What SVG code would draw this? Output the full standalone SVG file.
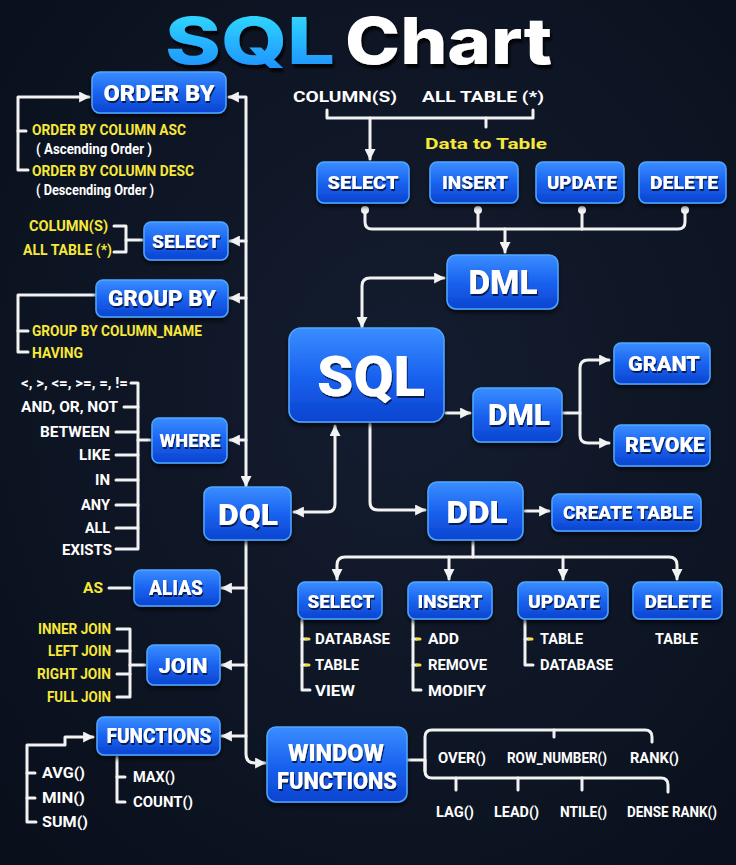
<svg xmlns="http://www.w3.org/2000/svg" width="736" height="865" viewBox="0 0 736 865">
<defs>
<radialGradient id="bg" cx="0.55" cy="0.45" r="0.75">
<stop offset="0" stop-color="#141d30"/>
<stop offset="1" stop-color="#090f1b"/>
</radialGradient>
<linearGradient id="nodeGrad" x1="0" y1="0" x2="0" y2="1">
<stop offset="0" stop-color="#3a8dff"/>
<stop offset="0.5" stop-color="#1a63f0"/>
<stop offset="1" stop-color="#0b44cf"/>
</linearGradient>
<linearGradient id="titleGrad" x1="0" y1="0" x2="0" y2="1">
<stop offset="0" stop-color="#33e6ff"/>
<stop offset="1" stop-color="#1b86ff"/>
</linearGradient>
<filter id="shadow" x="-20%" y="-30%" width="140%" height="170%">
<feDropShadow dx="0" dy="3" stdDeviation="2" flood-color="#000000" flood-opacity="0.7"/>
</filter>
<filter id="tshadow" x="-20%" y="-40%" width="140%" height="180%">
<feDropShadow dx="1" dy="2" stdDeviation="0.6" flood-color="#061645" flood-opacity="0.9"/>
</filter>
<filter id="titleShadow" x="-20%" y="-40%" width="140%" height="180%">
<feDropShadow dx="2" dy="4" stdDeviation="1" flood-color="#000000" flood-opacity="0.8"/>
</filter>
<marker id="ah" viewBox="0 0 10 10" refX="9" refY="5" markerWidth="11" markerHeight="11" markerUnits="userSpaceOnUse" orient="auto-start-reverse">
<path d="M0,0 L10,5 L0,10 z" fill="#f2f2f2"/>
</marker>
</defs>
<style>
.node rect{fill:url(#nodeGrad);stroke:#4fa6ff;stroke-width:1.5;filter:url(#shadow)}
.node text{font-family:Roboto,"Liberation Sans",sans-serif;font-weight:900;fill:#ffffff;text-anchor:middle;filter:url(#tshadow)}
.c{fill:none;stroke:#f2f2f2;stroke-width:3;stroke-linecap:round;stroke-linejoin:round}
.a{marker-end:url(#ah)}
.b{marker-start:url(#ah);marker-end:url(#ah)}
.y{stroke:#f5e04a}
.lt{font-family:Roboto,"Liberation Sans",sans-serif;font-weight:700;font-size:15px;fill:#ffffff}
.yt{font-family:Roboto,"Liberation Sans",sans-serif;font-weight:700;font-size:14px;fill:#f7e83a}
.r{text-anchor:end}
</style>
<rect width="736" height="865" fill="url(#bg)"/>

<g id="title" font-family="Inter,Roboto,sans-serif" font-weight="800" font-size="64">
<text x="165" y="64" fill="url(#titleGrad)" filter="url(#titleShadow)" textLength="170" lengthAdjust="spacingAndGlyphs">SQL</text>
<text x="345" y="64" fill="#ffffff" filter="url(#titleShadow)" textLength="207" lengthAdjust="spacingAndGlyphs">Chart</text>
</g>

<g id="connectors">
<path class="c b" d="M229,97 H246 V486"/>
<path class="c a" d="M246,241 H230"/>
<path class="c a" d="M246,298 H230"/>
<path class="c a" d="M246,440 H230"/>
<path class="c a" d="M246,541 V754 Q246,763 255,763 H265"/>
<path class="c a" d="M246,588 H222"/>
<path class="c a" d="M246,665 H222"/>
<path class="c a" d="M246,736 H222"/>
<path class="c a" d="M28,170 H18 V97 H89"/>
<path class="c" d="M18,131 H26"/>
<path class="c" d="M114,226 H126 V252 H114"/>
<path class="c" d="M126,240 H142"/>
<path class="c" d="M28,352 H18 V295 H96"/>
<path class="c" d="M18,331 H28"/>
<path class="c" d="M131,383 H138 V549 H116"/>
<path class="c" d="M124,407 H138"/>
<path class="c" d="M116,432 H138"/>
<path class="c" d="M116,455 H138"/>
<path class="c" d="M116,480 H138"/>
<path class="c" d="M116,505 H138"/>
<path class="c" d="M116,528 H138"/>
<path class="c" d="M138,440 H150"/>
<path class="c" d="M109,588 H130"/>
<path class="c" d="M117,629 H130 V697 H117"/>
<path class="c" d="M117,651 H130"/>
<path class="c" d="M117,674 H130"/>
<path class="c" d="M130,665 H145"/>
<path class="c a" d="M36,822 H27 V745 H65 V737 H93"/>
<path class="c" d="M27,773 H35"/>
<path class="c" d="M27,798 H35"/>
<path class="c" d="M117,757 V802 H125"/>
<path class="c" d="M117,777 H125"/>
<path class="c" d="M327,110 V118 H533 V110"/>
<path class="c" d="M486,118 V127"/>
<path class="c a" d="M370,118 V159"/>
<path class="c" d="M365,210 V222 Q365,229 372,229 H678 Q685,229 685,222 V210"/>
<path class="c" d="M478,210 V229"/>
<path class="c" d="M582,210 V229"/>
<path class="c a" d="M505,229 V252"/>
<circle cx="365" cy="210" r="4" fill="#f2f2f2"/>
<circle cx="478" cy="210" r="4" fill="#f2f2f2"/>
<circle cx="582" cy="210" r="4" fill="#f2f2f2"/>
<circle cx="685" cy="210" r="4" fill="#f2f2f2"/>
<path class="c b" d="M362,327 V286 Q362,278 370,278 H444"/>
<path class="c a" d="M446,413 H470"/>
<path class="c" d="M562,413 H580"/>
<path class="c b" d="M609,360 H588 Q580,360 580,368 V435 Q580,443 588,443 H609"/>
<path class="c b" d="M294,512 H327 Q335,512 335,504 V426"/>
<path class="c a" d="M370,424 V502 Q370,510 378,510 H425"/>
<path class="c a" d="M525,511 H549"/>
<path class="c" d="M473,541 V557"/>
<path class="c b" d="M337,579 V565 Q337,557 345,557 H669 Q677,557 677,565 V579"/>
<path class="c a" d="M449,557 V579"/>
<path class="c a" d="M563,557 V579"/>
<path class="c" d="M302,620 V690 H310"/>
<path class="c" d="M302,639 H306"/><path class="c y" d="M306,639 H309"/>
<path class="c" d="M302,665 H306"/><path class="c y" d="M306,665 H309"/>
<path class="c" d="M413,620 V690 H421"/>
<path class="c" d="M413,639 H417"/><path class="c y" d="M417,639 H420"/>
<path class="c" d="M413,665 H417"/><path class="c y" d="M417,665 H420"/>
<path class="c" d="M525,620 V665 H533"/>
<path class="c" d="M525,639 H529"/><path class="c y" d="M529,639 H532"/>
<path class="c" d="M407,760 H425"/>
<path class="c" d="M425,771 V737 Q425,730 432,730 H645 Q652,730 652,737 V742"/>
<path class="c" d="M554,730 V737"/>
<path class="c" d="M425,760 V771 Q425,778 432,778 H661 Q668,778 668,785 V792"/>
<path class="c" d="M456,778 V790"/>
<path class="c" d="M518,778 V790"/>
<path class="c" d="M582,778 V790"/>
</g>

<g id="orderby-items">
<text class="yt" x="32" y="135" textLength="154" lengthAdjust="spacingAndGlyphs">ORDER BY COLUMN ASC</text>
<text class="lt" x="36" y="154" font-size="14" textLength="116" lengthAdjust="spacingAndGlyphs">( Ascending Order )</text>
<text class="yt" x="32" y="176" textLength="162" lengthAdjust="spacingAndGlyphs">ORDER BY COLUMN DESC</text>
<text class="lt" x="36" y="195" font-size="14" textLength="118" lengthAdjust="spacingAndGlyphs">( Descending Order )</text>
</g>
<g id="select-items">
<text class="yt r" x="108" y="231" textLength="79" lengthAdjust="spacingAndGlyphs">COLUMN(S)</text>
<text class="yt r" x="112" y="255" textLength="89" lengthAdjust="spacingAndGlyphs">ALL TABLE (*)</text>
</g>
<g id="groupby-items">
<text class="yt" x="32" y="336" textLength="170" lengthAdjust="spacingAndGlyphs">GROUP BY COLUMN_NAME</text>
<text class="yt" x="32" y="358" textLength="51" lengthAdjust="spacingAndGlyphs">HAVING</text>
</g>
<g id="where-items">
<text class="lt r" x="128" y="388" textLength="107" lengthAdjust="spacingAndGlyphs">&lt;, &gt;, &lt;=, &gt;=, =, !=</text>
<text class="lt r" x="118" y="412" textLength="97" lengthAdjust="spacingAndGlyphs">AND, OR, NOT</text>
<text class="lt r" x="110" y="437" textLength="70" lengthAdjust="spacingAndGlyphs">BETWEEN</text>
<text class="lt r" x="110" y="460" textLength="31" lengthAdjust="spacingAndGlyphs">LIKE</text>
<text class="lt r" x="110" y="485" textLength="15" lengthAdjust="spacingAndGlyphs">IN</text>
<text class="lt r" x="110" y="510" textLength="29" lengthAdjust="spacingAndGlyphs">ANY</text>
<text class="lt r" x="110" y="533" textLength="25" lengthAdjust="spacingAndGlyphs">ALL</text>
<text class="lt r" x="112" y="555" textLength="50" lengthAdjust="spacingAndGlyphs">EXISTS</text>
</g>
<g id="alias-items">
<text class="yt r" x="103" y="593" font-size="15" textLength="20" lengthAdjust="spacingAndGlyphs">AS</text>
</g>
<g id="join-items">
<text class="yt r" x="111" y="634" textLength="73" lengthAdjust="spacingAndGlyphs">INNER JOIN</text>
<text class="yt r" x="111" y="656" textLength="63" lengthAdjust="spacingAndGlyphs">LEFT JOIN</text>
<text class="yt r" x="111" y="679" textLength="74" lengthAdjust="spacingAndGlyphs">RIGHT JOIN</text>
<text class="yt r" x="111" y="702" textLength="64" lengthAdjust="spacingAndGlyphs">FULL JOIN</text>
</g>
<g id="functions-items">
<text class="lt" x="42" y="778" textLength="43" lengthAdjust="spacingAndGlyphs">AVG()</text>
<text class="lt" x="42" y="803" textLength="43" lengthAdjust="spacingAndGlyphs">MIN()</text>
<text class="lt" x="42" y="827" textLength="46" lengthAdjust="spacingAndGlyphs">SUM()</text>
<text class="lt" x="133" y="782" textLength="42" lengthAdjust="spacingAndGlyphs">MAX()</text>
<text class="lt" x="133" y="807" textLength="60" lengthAdjust="spacingAndGlyphs">COUNT()</text>
</g>

<g id="dml-top-items">
<text class="lt" x="293" y="102" font-size="17" textLength="104" lengthAdjust="spacingAndGlyphs">COLUMN(S)</text>
<text class="lt" x="422" y="102" font-size="17" textLength="122" lengthAdjust="spacingAndGlyphs">ALL TABLE (*)</text>
<text class="yt" x="486" y="149" font-size="19" text-anchor="middle" textLength="122" lengthAdjust="spacingAndGlyphs">Data to Table</text>
</g>

<g id="ddl-items">
<text class="lt" x="315" y="644" textLength="75" lengthAdjust="spacingAndGlyphs">DATABASE</text>
<text class="lt" x="315" y="670" textLength="44" lengthAdjust="spacingAndGlyphs">TABLE</text>
<text class="lt" x="315" y="696" textLength="40" lengthAdjust="spacingAndGlyphs">VIEW</text>
<text class="lt" x="428" y="644" textLength="31" lengthAdjust="spacingAndGlyphs">ADD</text>
<text class="lt" x="428" y="670" textLength="59" lengthAdjust="spacingAndGlyphs">REMOVE</text>
<text class="lt" x="428" y="696" textLength="58" lengthAdjust="spacingAndGlyphs">MODIFY</text>
<text class="lt" x="540" y="644" textLength="43" lengthAdjust="spacingAndGlyphs">TABLE</text>
<text class="lt" x="540" y="670" textLength="73" lengthAdjust="spacingAndGlyphs">DATABASE</text>
<text class="lt" x="655" y="644" textLength="43" lengthAdjust="spacingAndGlyphs">TABLE</text>
</g>

<g id="window-items">
<text class="lt" x="438" y="763" textLength="48" lengthAdjust="spacingAndGlyphs">OVER()</text>
<text class="lt" x="507" y="763" textLength="100" lengthAdjust="spacingAndGlyphs">ROW_NUMBER()</text>
<text class="lt" x="630" y="763" textLength="49" lengthAdjust="spacingAndGlyphs">RANK()</text>
<text class="lt" x="436" y="817" textLength="38" lengthAdjust="spacingAndGlyphs">LAG()</text>
<text class="lt" x="494" y="817" textLength="45" lengthAdjust="spacingAndGlyphs">LEAD()</text>
<text class="lt" x="560" y="817" textLength="47" lengthAdjust="spacingAndGlyphs">NTILE()</text>
<text class="lt" x="627" y="817" textLength="90" lengthAdjust="spacingAndGlyphs">DENSE RANK()</text>
</g>

<g id="n-orderby" class="node"><rect x="92" y="72" width="134" height="41" rx="8"/><text x="159" y="101" font-size="22" textLength="111" lengthAdjust="spacingAndGlyphs">ORDER BY</text></g>
<g id="n-select-l" class="node"><rect x="144" y="222" width="84" height="38" rx="7"/><text x="186" y="248" font-size="19" textLength="68" lengthAdjust="spacingAndGlyphs">SELECT</text></g>
<g id="n-groupby" class="node"><rect x="96" y="280" width="132" height="37" rx="7"/><text x="162" y="306" font-size="22" textLength="108" lengthAdjust="spacingAndGlyphs">GROUP BY</text></g>
<g id="n-where" class="node"><rect x="152" y="418" width="75" height="45" rx="7"/><text x="190" y="447" font-size="19" textLength="61" lengthAdjust="spacingAndGlyphs">WHERE</text></g>
<g id="n-dql" class="node"><rect x="204" y="487" width="87" height="53" rx="8"/><text x="248" y="525" font-size="30" textLength="60" lengthAdjust="spacingAndGlyphs">DQL</text></g>
<g id="n-alias" class="node"><rect x="134" y="570" width="86" height="36" rx="7"/><text x="176" y="595" font-size="20" textLength="54" lengthAdjust="spacingAndGlyphs">ALIAS</text></g>
<g id="n-join" class="node"><rect x="147" y="645" width="73" height="40" rx="7"/><text x="183" y="673" font-size="21" textLength="49" lengthAdjust="spacingAndGlyphs">JOIN</text></g>
<g id="n-functions" class="node"><rect x="97" y="717" width="123" height="38" rx="7"/><text x="159" y="743" font-size="20" textLength="105" lengthAdjust="spacingAndGlyphs">FUNCTIONS</text></g>
<g id="n-window" class="node"><rect x="267" y="727" width="140" height="75" rx="9"/><text x="336" y="761" font-size="24" textLength="96" lengthAdjust="spacingAndGlyphs">WINDOW</text><text x="337" y="789" font-size="24" textLength="120" lengthAdjust="spacingAndGlyphs">FUNCTIONS</text></g>

<g id="n-sql" class="node"><rect x="289" y="328" width="155" height="94" rx="12"/><text x="371" y="396" font-size="56" textLength="108" lengthAdjust="spacingAndGlyphs">SQL</text></g>
<g id="n-dml-top" class="node"><rect x="447" y="255" width="111" height="54" rx="9"/><text x="503" y="294" font-size="34" textLength="69" lengthAdjust="spacingAndGlyphs">DML</text></g>
<g id="n-select-t" class="node"><rect x="317" y="162" width="92" height="41" rx="7"/><text x="363" y="189" font-size="19" textLength="71" lengthAdjust="spacingAndGlyphs">SELECT</text></g>
<g id="n-insert-t" class="node"><rect x="430" y="162" width="88" height="41" rx="7"/><text x="475" y="189" font-size="19" textLength="66" lengthAdjust="spacingAndGlyphs">INSERT</text></g>
<g id="n-update-t" class="node"><rect x="536" y="162" width="88" height="41" rx="7"/><text x="582" y="189" font-size="19" textLength="70" lengthAdjust="spacingAndGlyphs">UPDATE</text></g>
<g id="n-delete-t" class="node"><rect x="639" y="162" width="87" height="41" rx="7"/><text x="684" y="189" font-size="19" textLength="68" lengthAdjust="spacingAndGlyphs">DELETE</text></g>

<g id="n-dml-mid" class="node"><rect x="473" y="388" width="89" height="54" rx="8"/><text x="519" y="425" font-size="30" textLength="62" lengthAdjust="spacingAndGlyphs">DML</text></g>
<g id="n-grant" class="node"><rect x="614" y="343" width="96" height="41" rx="7"/><text x="664" y="371" font-size="20" textLength="72" lengthAdjust="spacingAndGlyphs">GRANT</text></g>
<g id="n-revoke" class="node"><rect x="614" y="425" width="96" height="41" rx="7"/><text x="665" y="452" font-size="20" textLength="80" lengthAdjust="spacingAndGlyphs">REVOKE</text></g>

<g id="n-ddl" class="node"><rect x="428" y="482" width="95" height="58" rx="9"/><text x="477" y="523" font-size="32" textLength="61" lengthAdjust="spacingAndGlyphs">DDL</text></g>
<g id="n-create" class="node"><rect x="552" y="494" width="149" height="37" rx="7"/><text x="628" y="519" font-size="19" textLength="130" lengthAdjust="spacingAndGlyphs">CREATE  TABLE</text></g>
<g id="n-select-b" class="node"><rect x="298" y="582" width="84" height="37" rx="7"/><text x="341" y="608" font-size="19" textLength="67" lengthAdjust="spacingAndGlyphs">SELECT</text></g>
<g id="n-insert-b" class="node"><rect x="408" y="582" width="84" height="37" rx="7"/><text x="450" y="608" font-size="19" textLength="65" lengthAdjust="spacingAndGlyphs">INSERT</text></g>
<g id="n-update-b" class="node"><rect x="518" y="582" width="90" height="37" rx="7"/><text x="564" y="608" font-size="19" textLength="72" lengthAdjust="spacingAndGlyphs">UPDATE</text></g>
<g id="n-delete-b" class="node"><rect x="633" y="582" width="89" height="37" rx="7"/><text x="678" y="608" font-size="19" textLength="67" lengthAdjust="spacingAndGlyphs">DELETE</text></g>
</svg>
